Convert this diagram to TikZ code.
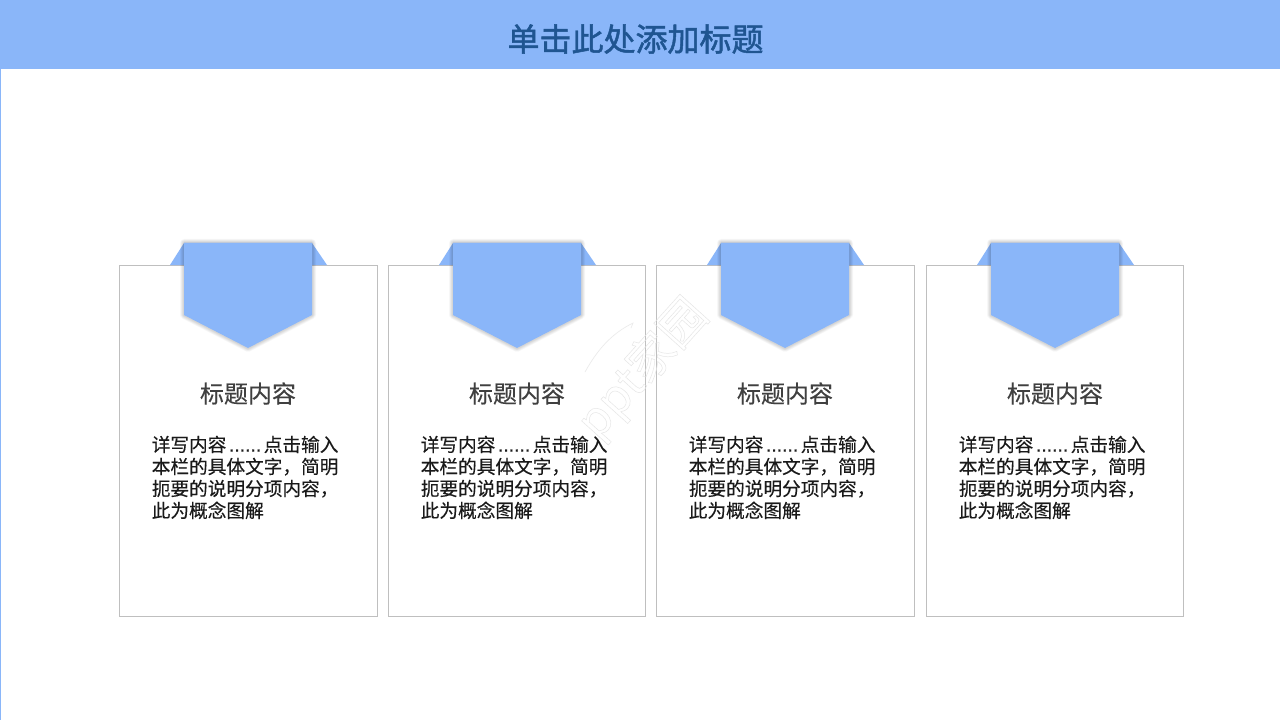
\documentclass[tikz,border=0pt]{standalone}
\usepackage{fontspec}
\setmainfont{Noto Sans CJK SC}
\newfontfamily\cjk{Noto Sans CJK SC}
\newfontfamily\cjkmid[FakeBold=0.3]{Noto Sans CJK SC}
\newfontfamily\cjkbold[FakeBold=1.5]{Noto Sans CJK SC}
\newfontfamily\dotfont[FakeBold=0.6]{Liberation Sans}
\definecolor{hdr}{HTML}{8AB6F9}
\definecolor{ttl}{HTML}{1F5591}
\definecolor{edge}{HTML}{BFBFBF}
\definecolor{hd}{HTML}{404040}
\definecolor{bd}{HTML}{1A1A1A}
\newcommand{\sixdots}{\makebox[2em][c]{\dotfont\fontsize{14.5}{16.5}\selectfont ......}}
\tikzset{
  cardbox/.style={draw=edge,line width=0.75pt,fill=white},
  headtext/.style={text=hd,font=\cjkmid\fontsize{18}{22}\selectfont,inner sep=0pt,anchor=center},
  bodytext/.style={text=bd,font=\cjkmid\fontsize{14}{16.5}\selectfont,inner sep=0pt,anchor=north west,align=left},
  softedge/.style={draw=black,draw opacity=0.022,line join=round},
  markline/.style={draw=black!8,line width=0.5pt,line cap=round},
  pennant/.pic={
    \fill[hdr] (-64,-22) -- (-78,0) -- (79,0) -- (64,-22) -- cycle;
    \foreach \w in {8,7,6,5,4,3,2} {\draw[softedge,line width=\w*0.75pt] (-64,-22) -- (-64,50) -- (0,83) -- (64,50) -- (64,-22) -- cycle;}
    \fill[hdr] (-64,-22) -- (-64,50) -- (0,83) -- (64,50) -- (64,-22) -- cycle;
  }
}
\begin{document}
\begin{tikzpicture}[x=0.75pt,y=-0.75pt]
\useasboundingbox (0,0) rectangle (1280,720);
\fill[white] (0,0) rectangle (1280,720);
\fill[hdr] (0,69) rectangle (1,720);
\fill[hdr] (0,0) rectangle (1280,69);
\node[text=ttl,font=\cjkbold\fontsize{24}{28}\selectfont,inner sep=0pt] (title) at (635.5,39) {单击此处添加标题};
\foreach \n/\l/\r/\c/\t in {a/119.5/377.5/248/151.5,b/388.5/645.5/517/420.5,c/656.5/914.5/785/688.5,d/926.5/1183.5/1055/958.5} {
  \node[cardbox,inner sep=0pt,minimum width=(\r-\l)*0.75pt,minimum height=351*0.75pt] (card\n) at ({(\l+\r)/2},441) {};
  \path (\c,265) pic {pennant};
  \node[headtext] (head\n) at (\c,393.5) {标题内容};
  \node[bodytext] (body\n) at (\t,435.5) {详写内容\sixdots{}点击输入\\本栏的具体文字，简明\\扼要的说明分项内容，\\此为概念图解};
}
\node[rotate=48,font=\cjk\fontsize{35}{38}\selectfont,inner sep=0pt] (mark) at (643,369)
  {\special{pdf:code q 1 Tr 0.35 w 0.9 G}ppt家园\special{pdf:code Q}};
\coordinate (roofa) at (585,372);
\coordinate (roofb) at (633,323);
\coordinate (roofc) at (631,328);
\draw[markline] (roofa) .. controls (600,345) and (615,332) .. (roofb) -- (roofc);
\end{tikzpicture}
\end{document}
